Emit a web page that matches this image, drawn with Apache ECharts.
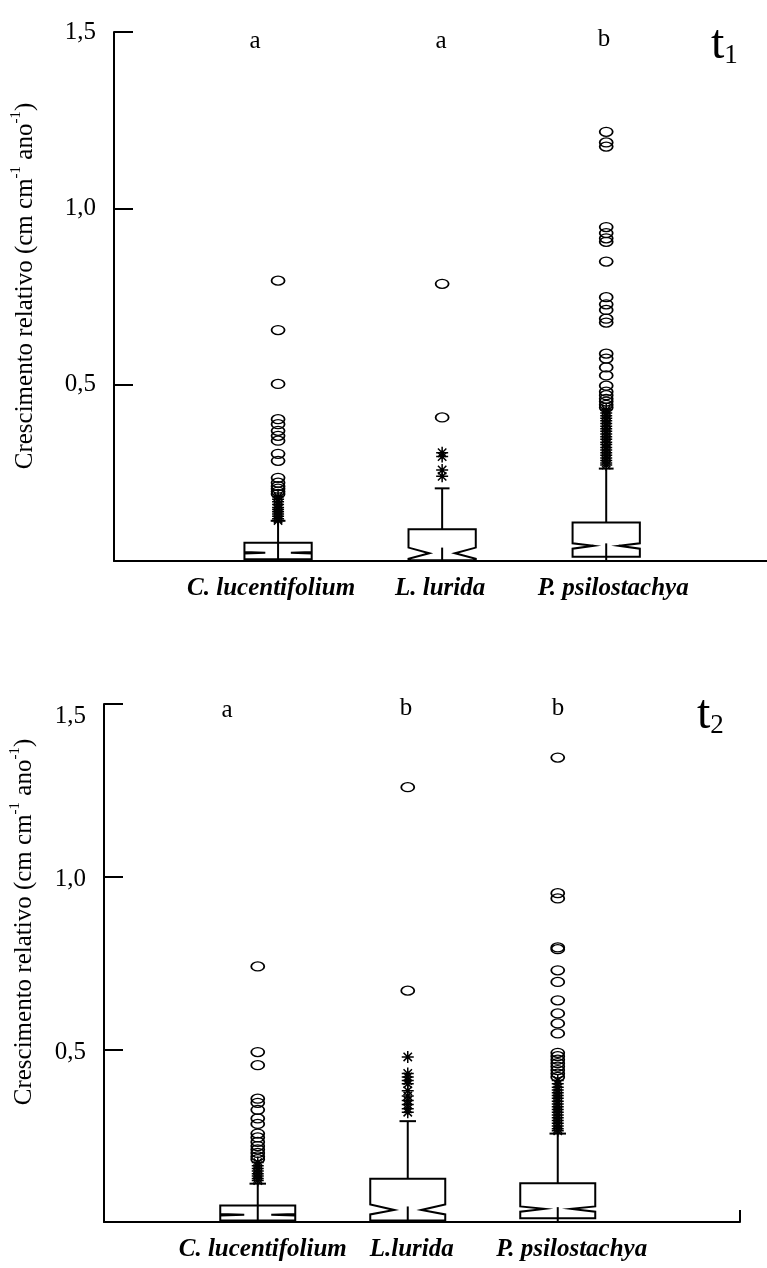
<!DOCTYPE html>
<html>
<head>
<meta charset="utf-8">
<script src="https://cdn.jsdelivr.net/npm/echarts@6/dist/echarts.min.js"></script>
<style>
html,body{margin:0;padding:0;background:#fff;}
#chart{width:767px;height:1268px;}
</style>
</head>
<body>
<div id="chart"></div>
<script>
// ---------- DATA ----------
const categoriesT1 = ['C. lucentifolium', 'L. lurida', 'P. psilostachya'];
const categoriesT2 = ['C. lucentifolium', 'L.lurida', 'P. psilostachya'];
const groupLettersT1 = ['a', 'a', 'b'];
const groupLettersT2 = ['a', 'b', 'b'];
const yTicks = [0.5, 1.0, 1.5];

// box statistics (t1)
const t1Q1 = [0.005, 0.002, 0.012];
const t1NotchLo = [0.0215, 0.0065, 0.035];
const t1Median = [0.0235, 0.022, 0.043];
const t1NotchHi = [0.0255, 0.038, 0.050];
const t1Q3 = [0.052, 0.090, 0.109];
const t1WhiskHi = [0.114, 0.206, 0.262];
const t1LineTop = [0.052, 0.038, 0.050];

// box statistics (t2)
const t2Q1 = [0.004, 0.004, 0.011];
const t2NotchLo = [0.019, 0.022, 0.030];
const t2Median = [0.021, 0.035, 0.038];
const t2NotchHi = [0.023, 0.051, 0.045];
const t2Q3 = [0.048, 0.125, 0.112];
const t2WhiskHi = [0.111, 0.292, 0.256];
const t2LineTop = [0.048, 0.045, 0.043];

// outliers t1 (circles = far outside, stars = outside)
const t1CircC = [0.795, 0.655, 0.502, 0.402, 0.388, 0.369, 0.355, 0.341, 0.304, 0.284, 0.236, 0.222, 0.212, 0.205, 0.197, 0.19];
const t1StarC = [0.182, 0.175, 0.168, 0.16, 0.152, 0.146, 0.14, 0.133, 0.127, 0.12, 0.115];
const t1CircL = [0.786, 0.407];
const t1StarL = [0.307, 0.296, 0.258, 0.24];
const t1CircP = [1.217, 1.187, 1.175, 0.947, 0.93, 0.915, 0.905, 0.849, 0.748, 0.728, 0.712, 0.687, 0.676, 0.588, 0.574, 0.549, 0.526, 0.497, 0.48, 0.47, 0.46, 0.452, 0.443, 0.435];
const t1StarP = [0.428, 0.42, 0.412, 0.405, 0.398, 0.39, 0.382, 0.375, 0.368, 0.36, 0.352, 0.345, 0.337, 0.33, 0.322, 0.315, 0.307, 0.3, 0.292, 0.285, 0.278, 0.272];

// outliers t2
const t2CircC = [0.74, 0.492, 0.454, 0.357, 0.345, 0.325, 0.3, 0.284, 0.256, 0.245, 0.232, 0.22, 0.21, 0.2, 0.19, 0.182];
const t2StarC = [0.172, 0.163, 0.155, 0.148, 0.14, 0.133, 0.126, 0.12];
const t2CircL = [1.259, 0.67];
const t2StarL = [0.478, 0.43, 0.42, 0.41, 0.40, 0.38, 0.365, 0.352, 0.34, 0.328, 0.318];
const t2CircP = [1.345, 0.952, 0.937, 0.795, 0.79, 0.729, 0.695, 0.642, 0.604, 0.575, 0.546, 0.49, 0.48, 0.47, 0.46, 0.45, 0.44, 0.43, 0.42];
const t2StarP = [0.41, 0.4, 0.39, 0.382, 0.374, 0.366, 0.358, 0.35, 0.342, 0.334, 0.326, 0.318, 0.31, 0.302, 0.294, 0.286, 0.278, 0.27, 0.264];

// ---------- BUILD ----------
const SERIF = '"Liberation Serif","Times New Roman",serif';
const circleSym = 'path://M0,4.5A6.5,4.5,0,1,1,13,4.5A6.5,4.5,0,1,1,0,4.5Z';
const starSym = 'path://M6,0L6,12M0,6L12,6M1.8,1.8L10.2,10.2M1.8,10.2L10.2,1.8';

function boxData(q1, nl, md, nu, q3, wh, lt) {
  return q1.map((_, i) => [i + 1, q1[i], nl[i], md[i], nu[i], q3[i], wh[i], lt[i]]);
}
function pts(x, arr) { return arr.map(v => [x, v]); }

function makeRender(boxW, capW, insetFrac) {
  return function (params, api) {
    const x = api.value(0);
    const q1 = api.value(1), nl = api.value(2), md = api.value(3), nu = api.value(4),
          q3 = api.value(5), wh = api.value(6), lt = api.value(7);
    const L = api.coord([x - boxW / 2, 0])[0];
    const R = api.coord([x + boxW / 2, 0])[0];
    const cx = api.coord([x, 0])[0];
    const Y = v => api.coord([x, v])[1];
    const ins = (R - L) * insetFrac;
    const cL = api.coord([x - capW / 2, 0])[0], cR = api.coord([x + capW / 2, 0])[0];
    const st = { stroke: '#000', lineWidth: 2, fill: null };
    return {
      type: 'group',
      children: [
        { type: 'line', shape: { x1: cx, y1: Y(q3), x2: cx, y2: Y(wh) }, style: st },
        { type: 'line', shape: { x1: cL, y1: Y(wh), x2: cR, y2: Y(wh) }, style: st },
        { type: 'line', shape: { x1: cx, y1: Y(lt), x2: cx, y2: Y(0) }, style: st },
        { type: 'polygon', shape: { points: [
            [L, Y(q3)], [L, Y(nu)], [L + ins, Y(md)], [L, Y(nl)], [L, Y(q1)],
            [R, Y(q1)], [R, Y(nl)], [R - ins, Y(md)], [R, Y(nu)], [R, Y(q3)]
          ] }, style: { stroke: '#000', lineWidth: 2, fill: 'none', lineJoin: 'miter' } }
      ]
    };
  };
}

function scatter(idx, data, sym, size) {
  return {
    type: 'scatter', xAxisIndex: idx, yAxisIndex: idx, data: data,
    symbol: sym, symbolSize: size, symbolKeepAspect: false,
    itemStyle: { color: 'rgba(0,0,0,0)', borderColor: '#000', borderWidth: 1.5, opacity: 1 },
    emphasis: { disabled: true }, silent: true, z: 3
  };
}

function yLabelFmt(shifted) {
  return function (v) {
    if (v === 0) return '';
    const s = v.toFixed(1).replace('.', ',');
    if (!shifted) return s;
    return v === 1.5 ? '{hi|' + s + '}' : '{n|' + s + '}';
  };
}

function yAxisCfg(idx, shifted) {
  return {
    gridIndex: idx, type: 'value', min: 0, max: 1.5, interval: 0.5,
    axisLine: { show: true, onZero: false, lineStyle: { color: '#000', width: 2 } },
    axisTick: { show: true, inside: true, length: 19, lineStyle: { color: '#000', width: 2 } },
    splitLine: { show: false },
    axisLabel: {
      show: true, margin: 18, color: '#000', fontFamily: SERIF, fontSize: 25,
      formatter: yLabelFmt(shifted),
      rich: {
        hi: { fontFamily: SERIF, fontSize: 25, color: '#000', lineHeight: 49, verticalAlign: 'bottom' },
        n: { fontFamily: SERIF, fontSize: 25, color: '#000', lineHeight: 31, verticalAlign: 'bottom' }
      }
    }
  };
}

function xAxisCfg(idx, min, max, names, richOffsets, endTick) {
  const rich = {};
  richOffsets.forEach((o, i) => {
    rich['c' + i] = { fontFamily: SERIF, fontSize: 25, fontStyle: 'italic', fontWeight: 'bold', color: '#000',
      padding: o >= 0 ? [0, 0, 0, o] : [0, -o, 0, 0] };
  });
  return {
    gridIndex: idx, type: 'value', min: min, max: max,
    axisLine: { show: true, onZero: false, lineStyle: { color: '#000', width: 2 } },
    axisTick: endTick ? { show: true, inside: true, length: 12, customValues: [max], lineStyle: { color: '#000', width: 2 } } : { show: false },
    splitLine: { show: false },
    axisLabel: {
      show: true, margin: 15, customValues: [1, 2, 3],
      formatter: function (v) { const i = Math.round(v) - 1; return '{c' + i + '|' + names[i] + '}'; },
      rich: rich
    }
  };
}

function titleText(x, y) {
  return {
    type: 'text', x: x, y: y, rotation: Math.PI / 2, silent: true,
    style: {
      text: '{m|Crescimento relativo (cm cm}{s|-1}{m| ano}{s|-1}{m|)}',
      align: 'center', verticalAlign: 'middle',
      rich: {
        m: { fontFamily: SERIF, fontSize: 25, fill: '#000', lineHeight: 29, verticalAlign: 'bottom' },
        s: { fontFamily: SERIF, fontSize: 15, fill: '#000', lineHeight: 15, verticalAlign: 'top' }
      }
    }
  };
}
function letter(t, x, y) {
  return { type: 'text', x: x, y: y, silent: true,
    style: { text: t, fontFamily: SERIF, fontSize: 25, fill: '#000', align: 'center', verticalAlign: 'middle' } };
}
function tLabel(sub, x, y) {
  return { type: 'text', x: x, y: y, silent: true,
    style: { text: '{t|t}{s|' + sub + '}', align: 'left', verticalAlign: 'middle',
      rich: {
        t: { fontFamily: SERIF, fontSize: 48, fill: '#000', lineHeight: 52, verticalAlign: 'bottom' },
        s: { fontFamily: SERIF, fontSize: 27, fill: '#000', lineHeight: 27, verticalAlign: 'bottom' }
      } } };
}

const option = {
  animation: false,
  backgroundColor: '#fff',
  grid: [
    { left: 114, top: 32, width: 653, height: 529 },
    { left: 104, top: 704, width: 636, height: 518 }
  ],
  xAxis: [
    xAxisCfg(0, 0, 3.98, categoriesT1, [-14, -4, 14], false),
    xAxisCfg(1, -0.025, 4.215, categoriesT2, [10, 8, 28], true)
  ],
  yAxis: [yAxisCfg(0, false), yAxisCfg(1, true)],
  series: [
    { type: 'custom', xAxisIndex: 0, yAxisIndex: 0, renderItem: makeRender(0.41, 0.09, 0.31),
      data: boxData(t1Q1, t1NotchLo, t1Median, t1NotchHi, t1Q3, t1WhiskHi, t1LineTop),
      encode: { x: 0, y: [1, 2, 3, 4, 5, 6, 7] }, silent: true, z: 2 },
    { type: 'custom', xAxisIndex: 1, yAxisIndex: 1, renderItem: makeRender(0.5, 0.11, 0.32),
      data: boxData(t2Q1, t2NotchLo, t2Median, t2NotchHi, t2Q3, t2WhiskHi, t2LineTop),
      encode: { x: 0, y: [1, 2, 3, 4, 5, 6, 7] }, silent: true, z: 2 },
    scatter(0, pts(1, t1CircC).concat(pts(2, t1CircL), pts(3, t1CircP)), circleSym, [13, 9]),
    scatter(0, pts(1, t1StarC).concat(pts(2, t1StarL), pts(3, t1StarP)), starSym, [12, 12]),
    scatter(1, pts(1, t2CircC).concat(pts(2, t2CircL), pts(3, t2CircP)), circleSym, [13, 9]),
    scatter(1, pts(1, t2StarC).concat(pts(2, t2StarL), pts(3, t2StarP)), starSym, [12, 12])
  ],
  graphic: [
    titleText(23, 286),
    titleText(22, 922),
    letter(groupLettersT1[0], 255, 41),
    letter(groupLettersT1[1], 441, 41),
    letter(groupLettersT1[2], 604, 39),
    letter(groupLettersT2[0], 227, 710),
    letter(groupLettersT2[1], 406, 708),
    letter(groupLettersT2[2], 558, 708),
    tLabel('1', 711, 43),
    tLabel('2', 697, 713)
  ]
};

const chart = echarts.init(document.getElementById('chart'), null, { renderer: 'canvas' });
chart.setOption(option);
</script>
</body>
</html>
